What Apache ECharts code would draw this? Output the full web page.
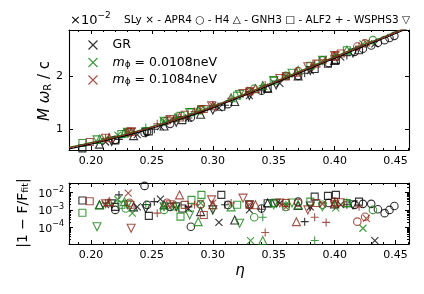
<!DOCTYPE html>
<html><head><meta charset="utf-8">
<script src="https://cdn.jsdelivr.net/npm/echarts@6/dist/echarts.min.js"></script>
<style>html,body{margin:0;padding:0;background:#fff}#c{width:424px;height:294px}</style>
</head><body><div id="c"></div>
<script>
// ---- tick values ----
const xTicks = [0.20, 0.25, 0.30, 0.35, 0.40, 0.45];
const xMinor = [0.19,0.21,0.22,0.23,0.24,0.26,0.27,0.28,0.29,0.31,0.32,0.33,0.34,0.36,0.37,0.38,0.39,0.41,0.42,0.43,0.44,0.46];
const yTopTicks = [1, 2];
const yBotTicks = [1e-4, 1e-3, 1e-2];
const yBotMinor = [2e-5,3e-5,4e-5,5e-5,6e-5,7e-5,8e-5,9e-5,2e-4,3e-4,4e-4,5e-4,6e-4,7e-4,8e-4,9e-4,2e-3,3e-3,4e-3,5e-3,6e-3,7e-3,8e-3,9e-3,2e-2,3e-2];

// ---- fit curves (x1e-2) ----
const fitEta = [0.182,0.20,0.22,0.24,0.26,0.28,0.30,0.32,0.34,0.36,0.38,0.40,0.42,0.44,0.461];
const fitGR  = [0.63,0.72,0.83,0.95,1.09,1.24,1.40,1.58,1.76,1.95,2.14,2.33,2.52,2.70,2.90];
const fitM1  = [0.66,0.75,0.86,0.98,1.12,1.27,1.43,1.61,1.79,1.98,2.17,2.36,2.55,2.73,2.93];
const fitM2  = [0.65,0.74,0.85,0.97,1.11,1.26,1.42,1.60,1.78,1.97,2.16,2.35,2.54,2.72,2.92];

// ---- points: [eta, M*omega_R/c (x1e-2), |1-F/Ffit|] ----
const GR_SLy = [[0.212,0.76,2.0e-3],[0.238,0.90,1.5e-3],[0.257,1.05,4.2e-3],[0.28,1.21,1.2e-3],[0.305,1.40,1.9e-4],[0.33,1.63,1.0e-3],[0.355,1.86,2.5e-3],[0.38,2.10,1.5e-3],[0.405,2.35,2.0e-3],[0.433,2.60,1.7e-5]];
const GR_APR4 = [[0.22,0.80,1.0e-3],[0.244,0.93,2.45e-2],[0.246,0.95,1.95e-3],[0.265,1.10,1.5e-3],[0.282,1.22,1.07e-4],[0.3125,1.47,1.95e-3],[0.34,1.72,1.2e-3],[0.37,2.00,3.0e-3],[0.395,2.24,2.5e-3],[0.4164,2.45,1.95e-3],[0.4232,2.51,2.24e-3],[0.43,2.57,2.24e-3],[0.4355,2.62,1.1e-3],[0.441,2.67,6.5e-4],[0.445,2.71,1.0e-3],[0.449,2.75,1.7e-3]];
const GR_H4 = [[0.207,0.72,2.0e-3],[0.235,0.88,1.5e-3],[0.26,1.06,2.0e-3],[0.29,1.28,8.0e-4],[0.318,1.52,2.6e-4],[0.345,1.77,2.5e-3],[0.37,2.00,1.8e-3],[0.40,2.29,2.2e-3]];
const GR_GNH3 = [[0.193,0.64,3.5e-3],[0.22,0.79,1.5e-3],[0.2475,0.96,4.5e-4],[0.275,1.17,1.2e-3],[0.307,1.42,7.4e-3],[0.345,1.76,2.45e-3],[0.3836,2.13,5.9e-3],[0.3945,2.23,6.5e-3],[0.401,2.30,7.4e-3],[0.42,2.48,3.0e-3]];
const GR_ALF2 = [[0.223,0.81,7.4e-3],[0.252,1.00,3.0e-3],[0.28,1.21,1.5e-3],[0.31,1.45,2.0e-3],[0.34,1.72,1.1e-3],[0.3754,2.05,2.1e-4],[0.41,2.38,2.0e-3]];
const GR_WSPHS3 = [[0.217,0.77,2.24e-3],[0.245,0.94,1.2e-3],[0.27,1.13,1.5e-3],[0.30,1.36,1.0e-3],[0.33,1.63,2.0e-3],[0.352,1.83,2.45e-3],[0.38,2.10,1.7e-3],[0.415,2.43,2.0e-3]];

const M1_SLy = [[0.222,0.89,4.0e-3],[0.234,0.96,6.5e-4],[0.26,1.15,1.5e-3],[0.29,1.37,2.5e-3],[0.331,1.73,1.7e-5],[0.36,2.00,2.0e-3],[0.401,2.39,1.3e-3],[0.4232,2.60,8.7e-5]];
const M1_APR4 = [[0.2285,0.93,1.2e-3],[0.26,1.15,1.0e-3],[0.29,1.37,2.0e-3],[0.334,1.76,3.8e-4],[0.36,2.00,1.5e-3],[0.39,2.29,2.0e-3],[0.4314,2.67,1.0e-3]];
const M1_H4 = [[0.207,0.81,1.95e-3],[0.2275,0.93,3.0e-3],[0.269,1.22,1.7e-3],[0.288,1.36,2.1e-4],[0.315,1.59,1.5e-3],[0.341,1.82,1.7e-5],[0.37,2.10,2.0e-3],[0.41,2.48,2.5e-3]];
const M1_GNH3 = [[0.193,0.74,6.9e-4],[0.225,0.91,2.0e-3],[0.2735,1.25,4.1e-4],[0.2825,1.32,3.8e-3],[0.2907,1.38,7.4e-3],[0.32,1.63,2.0e-3],[0.35,1.91,2.5e-3],[0.38,2.19,3.0e-3],[0.41,2.48,2.5e-3]];
const M1_ALF2 = [[0.215,0.85,2.5e-3],[0.245,1.03,2.0e-3],[0.27,1.22,1.5e-3],[0.30,1.45,1.2e-3],[0.341,1.82,3.8e-4],[0.36,2.00,2.0e-3],[0.3836,2.22,1.7e-5],[0.40,2.38,2.5e-3]];
const M1_WSPHS3 = [[0.205,0.80,1.07e-4],[0.23,0.94,2.0e-3],[0.26,1.15,1.5e-3],[0.281,1.31,5.1e-4],[0.322,1.65,1.7e-4],[0.35,1.91,2.0e-3],[0.365,2.05,2.5e-3],[0.39,2.29,1.5e-3]];

const M2_SLy = [[0.2306,0.94,9.3e-3],[0.267,1.19,2.0e-3],[0.30,1.44,2.5e-3],[0.33,1.71,2.0e-3],[0.36,1.99,1.5e-3],[0.39,2.28,2.2e-3],[0.426,2.62,3.2e-4]];
const M2_APR4 = [[0.2317,0.94,2.6e-3],[0.2625,1.16,2.6e-3],[0.29,1.36,2.2e-3],[0.33,1.71,2.0e-3],[0.37,2.09,2.5e-3],[0.40,2.37,3.0e-3],[0.4186,2.55,2.1e-4],[0.425,2.61,4.0e-4]];
const M2_H4 = [[0.215,0.84,3.0e-3],[0.2727,1.23,7.4e-3],[0.30,1.44,2.0e-3],[0.335,1.76,2.0e-3],[0.3686,2.07,2.1e-4],[0.40,2.37,2.5e-3]];
const M2_GNH3 = [[0.199,0.76,3.2e-3],[0.2325,0.95,2.0e-3],[0.277,1.27,1.95e-3],[0.2926,1.38,5.1e-4],[0.33,1.71,2.0e-3],[0.36,1.99,2.5e-3],[0.385,2.23,2.5e-3],[0.405,2.42,2.8e-3]];
const M2_ALF2 = [[0.212,0.83,2.5e-3],[0.2544,1.10,6.5e-4],[0.285,1.33,2.0e-3],[0.315,1.58,2.5e-3],[0.343,1.83,4.9e-5],[0.3836,2.21,3.8e-4],[0.393,2.30,1.9e-4],[0.42,2.56,1.5e-3]];
const M2_WSPHS3 = [[0.212,0.83,2.24e-3],[0.233,0.95,8.7e-5],[0.265,1.18,2.0e-3],[0.299,1.44,3.8e-3],[0.3248,1.67,4.8e-3],[0.355,1.95,2.5e-3],[0.378,2.17,1.0e-3],[0.40,2.38,2.0e-3]];

const X_PATH = 'path://M0,0L10,10M10,0L0,10';
const P_PATH = 'path://M5,0L5,10M0,5L10,5';
const FONT = 'DejaVu Sans';
const models = [
  {name:'GR', color:'#000000', fit:fitGR, sets:[GR_SLy,GR_APR4,GR_H4,GR_GNH3,GR_ALF2,GR_WSPHS3]},
  {name:'m1', color:'#138013', fit:fitM1, sets:[M1_SLy,M1_APR4,M1_H4,M1_GNH3,M1_ALF2,M1_WSPHS3]},
  {name:'m2', color:'#8c2a1c', fit:fitM2, sets:[M2_SLy,M2_APR4,M2_H4,M2_GNH3,M2_ALF2,M2_WSPHS3]}
];
const eos = [
  {symbol:X_PATH, size:7, rot:0},
  {symbol:'circle', size:7.5, rot:0},
  {symbol:'triangle', size:8, rot:0},
  {symbol:'rect', size:7, rot:0},
  {symbol:P_PATH, size:8, rot:0},
  {symbol:'triangle', size:8, rot:180}
];

const series = [];
models.forEach(m => {
  m.sets.forEach((arr, i) => {
    const e = eos[i];
    const base = {type:'scatter', name:m.name, symbol:e.symbol, symbolSize:e.size, symbolRotate:e.rot,
      itemStyle:{color:'none', borderColor:m.color, borderWidth:1.1}, emphasis:{disabled:true}, silent:true, z:2};
    series.push(Object.assign({}, base, {xAxisIndex:0, yAxisIndex:0, data:arr.map(p=>[p[0],p[1]])}));
    series.push(Object.assign({}, base, {xAxisIndex:4, yAxisIndex:2, data:arr.map(p=>[p[0],p[2]])}));
  });
});
models.forEach(m => {
  series.push({type:'line', name:'fit_'+m.name, xAxisIndex:0, yAxisIndex:0, showSymbol:false, smooth:0.3,
    lineStyle:{color:m.color, width:1.1}, data:fitEta.map((x,i)=>[x,m.fit[i]]), z:3, silent:true});
});

const axLine = {show:true, onZero:false, lineStyle:{color:'#000', width:1.1}};
function xAx(grid, pos, main) {
  return {type:'value', gridIndex:grid, position:pos, min:0.182, max:0.461,
    axisLine: main ? axLine : {show:false},
    axisTick:{show:true, inside:true, length: main?4:2, customValues: main?xTicks:xMinor, lineStyle:{color:'#000', width:1}},
    axisLabel:{show: main && pos==='bottom', customValues:xTicks, formatter:v=>v.toFixed(2), color:'#000', fontSize:11, fontFamily:FONT, margin:6},
    splitLine:{show:false}};
}
function yLog(pos, main) {
  return {type:'log', gridIndex:1, position:pos, min:1.07e-5, max:0.036, logBase:10,
    axisLine: main ? axLine : {show:false},
    axisTick:{show:true, inside:true, length: main?4:2, customValues: main?yBotTicks:yBotMinor, lineStyle:{color:'#000', width:1}},
    axisLabel:{show: main && pos==='left', customValues:yBotTicks, color:'#000', fontFamily:FONT, margin:5,
      formatter: v => '{b|10}{s|' + String(Math.round(Math.log10(v))).replace('-','\u2212') + '}',
      rich:{b:{fontSize:11, fontFamily:FONT, color:'#000', lineHeight:14, verticalAlign:'bottom'}, s:{fontSize:8, fontFamily:FONT, color:'#000', lineHeight:14, verticalAlign:'top', padding:[0,0,6,0]}}},
    splitLine:{show:false}, minorTick:{show:false}};
}

const option = {
  animation:false,
  textStyle:{fontFamily:FONT},
  grid:[{left:69, top:30, width:340, height:120}, {left:69, top:183, width:340, height:61}],
  xAxis:[xAx(0,'bottom',true), xAx(0,'top',true), xAx(0,'bottom',false), xAx(0,'top',false),
         xAx(1,'bottom',true), xAx(1,'top',true), xAx(1,'bottom',false), xAx(1,'top',false)],
  yAxis:[
    {type:'value', gridIndex:0, position:'left', min:0.61, max:2.86, axisLine:axLine,
     axisTick:{show:true, inside:true, length:4, customValues:yTopTicks, lineStyle:{color:'#000'}},
     axisLabel:{customValues:yTopTicks, color:'#000', fontSize:11, fontFamily:FONT, margin:6}, splitLine:{show:false}},
    {type:'value', gridIndex:0, position:'right', min:0.61, max:2.86, axisLine:axLine,
     axisTick:{show:true, inside:true, length:4, customValues:yTopTicks, lineStyle:{color:'#000'}},
     axisLabel:{show:false}, splitLine:{show:false}},
    yLog('left', true), yLog('right', true), yLog('left', false), yLog('right', false)
  ],
  legend:[0,1,2].map(i => ({
    data:[{name:models[i].name, icon:X_PATH, itemStyle:{color:'none', borderColor:models[i].color, borderWidth:1.2}}],
    left:86, top:38 + i*17.5, padding:0, itemWidth:9, itemHeight:9, selectedMode:false,
    formatter: n => n==='GR' ? '{t|GR}' : (n==='m1' ? '{i|m}{s|\u03d5}{t| = 0.0108neV}' : '{i|m}{s|\u03d5}{t| = 0.1084neV}'),
    textStyle:{color:'#000', fontSize:12.5, fontFamily:FONT, padding:[0,0,0,10],
      rich:{t:{fontSize:12.5, fontFamily:FONT, color:'#000'}, i:{fontSize:12.5, fontStyle:'italic', fontFamily:FONT, color:'#000'},
            s:{fontSize:9, fontFamily:FONT, color:'#000', verticalAlign:'bottom', padding:[4,0,0,0]}}}
  })),
  graphic:[
    {type:'text', left:70, top:11, style:{text:'{b|\u00d710}{s|\u22122}', rich:{b:{fontSize:13, fontFamily:FONT, fill:'#000', verticalAlign:'bottom', lineHeight:16}, s:{fontSize:9, fontFamily:FONT, fill:'#000', verticalAlign:'top', lineHeight:16}}}},
    {type:'text', x:410, y:20, style:{text:'SLy \u00d7 - APR4 \u25cb - H4 \u25b3 - GNH3 \u25a1 - ALF2 + - WSPHS3 \u25bd', fontSize:10.5, fontFamily:FONT, fill:'#000', align:'right', verticalAlign:'middle'}},
    {type:'text', x:45, y:91, rotation:Math.PI/2, style:{text:'{i|M \u03c9}{s|R}{t| / c}', align:'center', verticalAlign:'middle',
      rich:{i:{fontSize:15, fontStyle:'italic', fontFamily:FONT, fill:'#000'}, s:{fontSize:10, fontFamily:FONT, fill:'#000', verticalAlign:'bottom', padding:[6,0,0,0]}, t:{fontSize:15, fontFamily:FONT, fill:'#000'}}}},
    {type:'text', x:23, y:213, rotation:Math.PI/2, style:{text:'{t|\u007c1 \u2212 F/F}{s|fit}{t|\u007c}', align:'center', verticalAlign:'middle',
      rich:{t:{fontSize:14, fontFamily:FONT, fill:'#000'}, s:{fontSize:9.5, fontFamily:FONT, fill:'#000', verticalAlign:'bottom', padding:[6,0,0,0]}}}},
    {type:'text', x:240, y:271, style:{text:'\u03b7', fontSize:15, fontStyle:'italic', fontFamily:FONT, fill:'#000', align:'center', verticalAlign:'middle'}}
  ],
  series: series
};
const chart = echarts.init(document.getElementById('c'), null, {renderer:'canvas'});
chart.setOption(option);
</script>
</body></html>
